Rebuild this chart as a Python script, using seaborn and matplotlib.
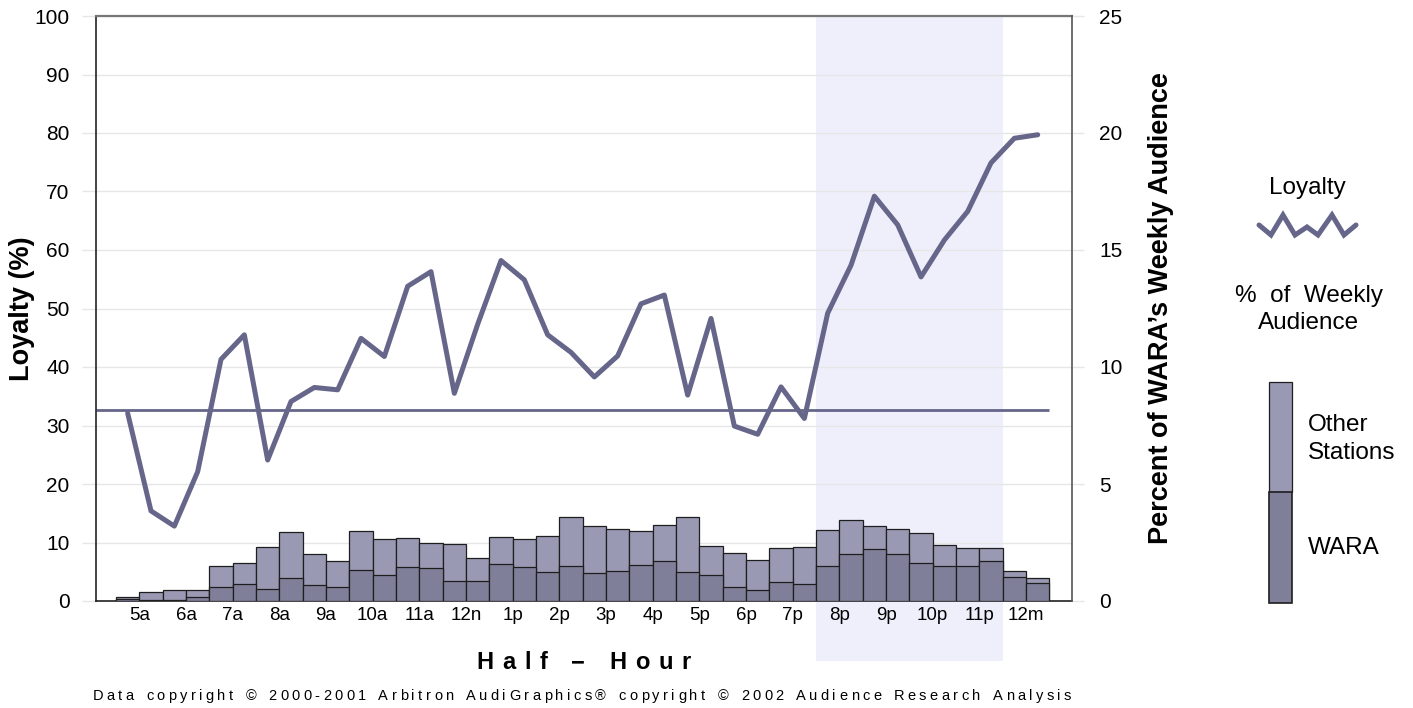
import numpy as np
import pandas as pd
import seaborn as sns
import matplotlib
matplotlib.use("Agg")
import matplotlib.pyplot as plt
from matplotlib.lines import Line2D
from matplotlib.patches import Rectangle
from matplotlib.textpath import TextToPath
from matplotlib.font_manager import FontProperties

# ---------------- data ----------------
hour_labels = ["5a", "6a", "7a", "8a", "9a", "10a", "11a", "12n", "1p", "2p",
               "3p", "4p", "5p", "6p", "7p", "8p", "9p", "10p", "11p", "12m"]

loyalty = [32.1, 15.4, 12.8, 22.1, 41.3, 45.5, 24.1, 34.1, 36.5, 36.1,
           44.9, 41.8, 53.8, 56.3, 35.5, 47.3, 58.2, 54.9, 45.5, 42.5,
           38.3, 41.9, 50.8, 52.3, 35.2, 48.3, 29.9, 28.5, 36.6, 31.2,
           49.2, 57.4, 69.2, 64.3, 55.4, 61.7, 66.6, 74.9, 79.1, 79.7]

loyalty_avg = 32.7

wara_pct = [0.10, 0.05, 0.05, 0.16, 0.61, 0.73, 0.53, 1.00, 0.70, 0.60,
            1.33, 1.10, 1.44, 1.40, 0.86, 0.86, 1.60, 1.45, 1.24, 1.51,
            1.21, 1.27, 1.53, 1.70, 1.25, 1.11, 0.60, 0.49, 0.83, 0.71,
            1.48, 1.99, 2.21, 1.99, 1.61, 1.48, 1.48, 1.70, 1.01, 0.78]

other_pct = [0.09, 0.32, 0.41, 0.33, 0.90, 0.88, 1.76, 1.96, 1.29, 1.11,
             1.66, 1.53, 1.24, 1.08, 1.58, 0.97, 1.14, 1.22, 1.53, 2.09,
             1.99, 1.79, 1.48, 1.56, 2.33, 1.23, 1.44, 1.25, 1.44, 1.61,
             1.57, 1.46, 0.99, 1.10, 1.28, 0.93, 0.77, 0.58, 0.26, 0.22]

highlight_start, highlight_end = 29.5, 37.5   # 8p .. 11p (half-hour index units)

# ---------------- style ----------------
sns.set_style("white")
plt.rcParams["font.family"] = ["Liberation Sans", "DejaVu Sans"]
plt.rcParams["text.color"] = "black"
plt.rcParams["axes.labelcolor"] = "black"
plt.rcParams["xtick.labelcolor"] = "black"
plt.rcParams["ytick.labelcolor"] = "black"

LINE_C = "#66668A"
OTHER_C = "#9999B3"
WARA_C = "#7F7F99"
EDGE_C = "#1E1E1E"
GRID_C = "#E6E6E6"
SHADE_C = "#EFEFFC"

W, H = 1413, 708
fig = plt.figure(figsize=(W / 100, H / 100), dpi=100)
ax = fig.add_axes([96 / W, (H - 601) / H, 976 / W, 585 / H])
ax2 = ax.twinx()

n = len(loyalty)
idx = np.arange(n)
df = pd.DataFrame({"slot": idx, "loyalty": loyalty,
                   "wara": wara_pct, "other": other_pct})
df["total"] = df["wara"] + df["other"]

# bars (right axis)
sns.barplot(data=df, x="slot", y="total", ax=ax2, color=OTHER_C, saturation=1,
            width=1.0, edgecolor=EDGE_C, linewidth=0.9, errorbar=None)
sns.barplot(data=df, x="slot", y="wara", ax=ax2, color=WARA_C, saturation=1,
            width=1.0, edgecolor=EDGE_C, linewidth=0.9, errorbar=None)

# loyalty line (left axis)
sns.lineplot(data=df, x="slot", y="loyalty", ax=ax, color=LINE_C,
             linewidth=3.6, zorder=3)
xlim = (-1.357, 40.47)
ax.plot([xlim[0], 39.5], [loyalty_avg, loyalty_avg], color=LINE_C,
        linewidth=2.0, zorder=2.5, solid_capstyle="butt")

# highlighted band (extends under tick labels)
ax.axvspan(highlight_start, highlight_end, ymin=-0.103, ymax=1.0,
           color=SHADE_C, zorder=0.2, clip_on=False, lw=0)

# axes limits & ticks
ax.set_xlim(*xlim)
ax.set_ylim(0, 100)
ax2.set_ylim(0, 25)
ax.set_axisbelow(True)

major_x = np.arange(-0.5, 40, 2)
minor_x = np.arange(0.5, 40, 2)
ax.set_xticks(major_x)
ax.set_xticklabels([])
ax.set_xticks(minor_x, minor=True)
ax.set_xticklabels(hour_labels, minor=True, fontsize=13.5, color="black")
ax.tick_params(axis="x", which="major", length=17, color=GRID_C, width=1,
               direction="out")
ax.tick_params(axis="x", which="minor", length=0, pad=4, labelcolor="black")
ax2.set_xticks([])
ax2.set_xlabel("")
ax.set_xlabel("")

ax.set_yticks(np.arange(0, 101, 10))
ax.tick_params(axis="y", length=10, color=GRID_C, width=1, pad=9,
               labelsize=15, labelcolor="black")
ax2.set_yticks(np.arange(0, 26, 5))
ax2.tick_params(axis="y", length=8.5, color=GRID_C, width=1, pad=11,
                labelsize=15, labelcolor="black")

ax.grid(True, which="major", color=GRID_C, linewidth=1)
ax2.grid(False)

# spines
for s in ["left", "bottom"]:
    ax.spines[s].set_color("#222222")
    ax.spines[s].set_linewidth(1.2)
ax.spines["top"].set_color("#777777")
ax.spines["top"].set_linewidth(1.6)
ax.spines["right"].set_visible(False)
ax2.spines["right"].set_color("#555555")
ax2.spines["right"].set_linewidth(1.2)
for s in ["left", "top", "bottom"]:
    ax2.spines[s].set_visible(False)

# axis labels
ax.set_ylabel("Loyalty (%)", fontsize=19.5, fontweight="bold", color="black")
ax.yaxis.set_label_coords(-0.0625, 0.5)
ax2.set_ylabel("Percent of WARA\u2019s Weekly Audience", fontsize=19.5,
               fontweight="bold", rotation=90, color="black")
ax2.yaxis.set_label_coords(1.078, 0.5)


# ---------------- letter-spaced text helper ----------------
ttp = TextToPath()


def spaced_text(x0, x1, base_px, s, size, word_gap, weight="normal"):
    prop = FontProperties(family="Liberation Sans", size=size, weight=weight)
    adv = {}
    for ch in set(s):
        if ch != " ":
            w, _, _ = ttp.get_text_width_height_descent(ch, prop, ismath=False)
            adv[ch] = w * 100 / 72
    chars = [c for c in s if c != " "]
    n_sp = s.count(" ")
    total_adv = sum(adv[c] for c in chars)
    spacing = (x1 - x0 - total_adv - n_sp * word_gap) / (len(chars) - 1)
    x = x0
    for ch in s:
        if ch == " ":
            x += word_gap
            continue
        fig.text(x / W, 1 - base_px / H, ch, fontproperties=prop,
                 ha="left", va="baseline", color="black")
        x += adv[ch] + spacing


spaced_text(476, 691, 669, "Half \u2212 Hour", 17, 15, weight="bold")
spaced_text(92.5, 1071, 700,
            "Data copyright \u00a9 2000-2001 Arbitron AudiGraphics\u00ae "
            "copyright \u00a9 2002 Audience Research Analysis",
            10.5, 9)

# ---------------- custom legend ----------------
def fx(px):
    return px / W


def fy(py):
    return 1 - py / H


LEG_FS = 17.5
fig.text(fx(1307), fy(188), "Loyalty", fontsize=LEG_FS, ha="center",
         va="center")
zz_x = [1259, 1271, 1283, 1295, 1307, 1318, 1332, 1344, 1356]
zz_y = [225, 235, 215, 235, 227, 235, 215, 235, 225]
fig.add_artist(Line2D([fx(v) for v in zz_x], [fy(v) for v in zz_y],
                      color=LINE_C, linewidth=3.6, solid_joinstyle="miter",
                      solid_capstyle="round"))
fig.text(fx(1309), fy(296), "%  of  Weekly", fontsize=LEG_FS, ha="center",
         va="center")
fig.text(fx(1309), fy(323), "Audience", fontsize=LEG_FS, ha="center",
         va="center")
fig.add_artist(Rectangle((fx(1268.5), fy(492)), 23 / W, 110 / H,
                         facecolor=OTHER_C, edgecolor=EDGE_C, linewidth=0.9))
fig.add_artist(Rectangle((fx(1268.5), fy(603)), 23 / W, 111 / H,
                         facecolor=WARA_C, edgecolor=EDGE_C, linewidth=1.2))
fig.text(fx(1308), fy(425), "Other", fontsize=LEG_FS, ha="left", va="center")
fig.text(fx(1308), fy(453), "Stations", fontsize=LEG_FS, ha="left",
         va="center")
fig.text(fx(1308), fy(548), "WARA", fontsize=LEG_FS, ha="left", va="center")

fig.savefig("out.png", dpi=100, facecolor="white")
